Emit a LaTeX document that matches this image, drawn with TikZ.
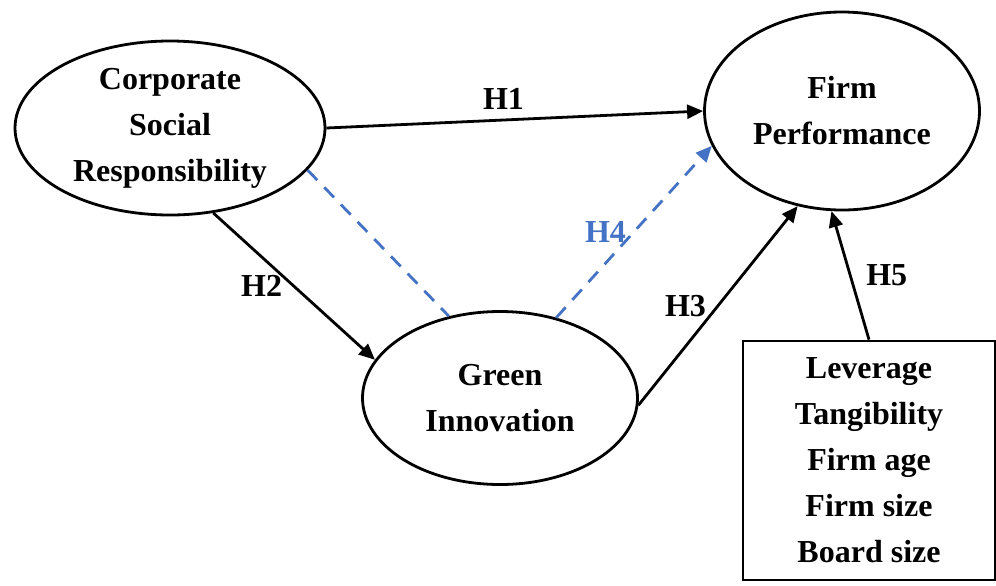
\documentclass[tikz,border=0pt]{standalone}
\usepackage{fontspec}
\setmainfont{Liberation Serif}
\usetikzlibrary{shapes.geometric,arrows.meta}

\definecolor{hypblue}{RGB}{68,114,196}

\tikzset{
  construct/.style={ellipse,draw,line width=1.4pt,align=center,inner sep=0pt,
    font=\bfseries\fontsize{16}{23}\selectfont},
  ctrlbox/.style={rectangle,draw,line width=1.4pt,align=center,inner sep=0pt,
    font=\bfseries\fontsize{16}{23}\selectfont},
  hyp/.style={line width=1.4pt,-{Triangle[length=8pt,width=7pt]}},
  hypdash/.style={hypblue,line width=1.4pt,dash pattern=on 7pt off 5pt},
  hlabel/.style={font=\bfseries\fontsize{16}{18}\selectfont}
}

\begin{document}
\begin{tikzpicture}[x=0.5pt,y=-0.5pt]
\useasboundingbox (0,0) rectangle (996,585);

% constructs
\node[construct,minimum width=155pt,minimum height=87pt] (csr) at (170,128)
  {Corporate\\Social\\Responsibility};
\node[construct,minimum width=137.5pt,minimum height=99pt] (fp) at (842,111)
  {Firm\\Performance};
\node[construct,minimum width=137.5pt,minimum height=86.5pt] (gi) at (500,398)
  {Green\\Innovation};
\node[ctrlbox,minimum width=126pt,minimum height=119.5pt] (ctrl) at (869,460.5)
  {Leverage\\Tangibility\\Firm age\\Firm size\\Board size};

% hypotheses
\draw[hyp] (csr.east) -- (fp.west) node[hlabel,pos=0.47,above=1pt] {H1};
\draw[hyp] (csr.-63) -- (gi.163) node[hlabel,pos=0.5,left=2pt] {H2};
\draw[hyp] (gi.-3) -- (fp.245) node[hlabel,pos=0.5,left=2pt] {H3};
\draw[hypdash] (csr.-17) -- (gi.122);
\draw[hypdash,-{Triangle[length=8pt,width=7pt]}] (gi.55) -- (fp.195)
  node[hlabel,pos=0.5,left=0pt] {H4};
\draw[hyp] (ctrl.north) -- (fp.264) node[hlabel,midway,right=4pt] {H5};

\end{tikzpicture}
\end{document}
